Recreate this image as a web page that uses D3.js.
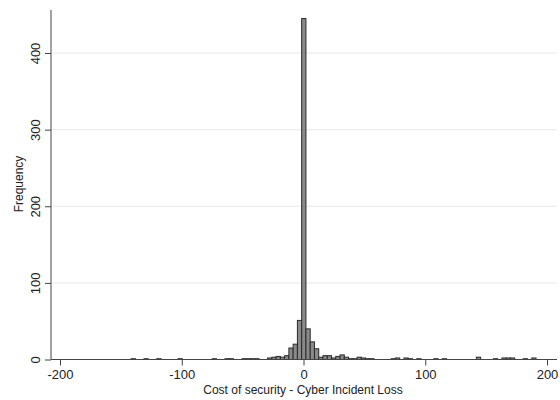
<!DOCTYPE html>
<html lang="en">
<head>
    <meta charset="UTF-8">
    <title>Cost of security histogram</title>
    <script src="https://d3js.org/d3.v7.min.js"></script>
    <style>
        body { margin: 0; background: #fff; }
        text { font-family: "Liberation Sans", Arial, sans-serif; fill: #222; }
    </style>
</head>
<body>
    <div id="chart"></div>

    <script>
        // Histogram bins (left edge, width 3.5)
        const binWidth = 3.5;
        const binStart = [
            -141.5, -131, -120.5, -103, -75, -64.5, -61, -50.5, -47, -43.5, -40,
            -29.5, -26, -22.5, -19, -15.5, -12, -8.5, -5, -1.5, 2, 5.5, 9, 12.5,
            16, 19.5, 23, 26.5, 30, 33.5, 37, 40.5, 44, 47.5, 51, 54.5,
            72, 75.5, 82.5, 86, 93, 107, 114, 142, 156, 163, 166.5, 170, 180.5, 187.5
        ];
        const binCount = [
            1, 1, 1, 1, 1, 1, 1, 1, 1, 1, 1,
            2, 3, 4, 3, 5, 15, 20, 51, 445, 40, 23, 14, 3,
            5, 5, 2, 4, 6, 3, 1, 1, 3, 2, 1, 1,
            1, 2, 2, 1, 1, 1, 1, 3, 1, 2, 2, 2, 1, 2
        ];
        const xTicks = [-200, -100, 0, 100, 200];
        const yTicks = [0, 100, 200, 300, 400];

        const width = 560;
        const height = 400;

        const svg = d3.select("#chart")
            .append("svg")
            .attr("width", width)
            .attr("height", height);

        const x = d3.scaleLinear()
            .domain([-200, 200])
            .range([60, 547]);

        const y = d3.scaleLinear()
            .domain([0, 400])
            .range([359.5, 53]);

        const plotLeft = 51, plotRight = 557, plotTop = 10, plotBottom = 359.5;

        // grid lines
        svg.append("g")
            .selectAll("line")
            .data(yTicks.filter(d => d > 0))
            .enter().append("line")
            .attr("x1", plotLeft).attr("x2", plotRight)
            .attr("y1", d => y(d)).attr("y2", d => y(d))
            .attr("stroke", "#e8e8e8")
            .attr("stroke-width", 1);

        // bars
        const bins = binStart.map((s, i) => ({ x0: s, x1: s + binWidth, n: binCount[i] }));
        svg.append("g")
            .selectAll("rect")
            .data(bins)
            .enter().append("rect")
            .attr("x", d => x(d.x0))
            .attr("width", d => x(d.x1) - x(d.x0))
            .attr("y", d => y(d.n))
            .attr("height", d => y(0) - y(d.n))
            .attr("fill", "#8a8a8a")
            .attr("stroke", "#2a2a2a")
            .attr("stroke-width", 1);

        // x axis (plain hyphen minus, as in the reference)
        const xAxis = svg.append("g")
            .attr("transform", `translate(0,${plotBottom})`)
            .call(d3.axisBottom(x).tickValues(xTicks).tickSize(6).tickPadding(4).tickFormat(d => String(d)));
        xAxis.select(".domain").attr("d", `M${plotLeft},0H${plotRight}`).attr("stroke", "#444");
        xAxis.selectAll("line").attr("stroke", "#444");
        xAxis.selectAll("text").style("font-size", "13px").attr("fill", "#222");

        // y axis, labels rotated
        const yAxis = svg.append("g")
            .attr("transform", `translate(${plotLeft},0)`)
            .call(d3.axisLeft(y).tickValues(yTicks).tickSize(6).tickPadding(0).tickFormat(d => String(d)));
        yAxis.select(".domain").attr("d", `M0,${plotTop}V${plotBottom}`).attr("stroke", "#444");
        yAxis.selectAll("line").attr("stroke", "#444");
        yAxis.selectAll("text")
            .style("font-size", "13px")
            .attr("fill", "#222")
            .attr("x", 0).attr("y", 0).attr("dy", 0)
            .attr("text-anchor", "middle")
            .attr("transform", "translate(-11,0) rotate(-90)");

        // axis titles
        svg.append("text")
            .attr("x", 303)
            .attr("y", 394)
            .attr("text-anchor", "middle")
            .style("font-size", "12px")
            .text("Cost of security - Cyber Incident Loss");

        svg.append("text")
            .attr("transform", "translate(23,184) rotate(-90)")
            .attr("text-anchor", "middle")
            .style("font-size", "12px")
            .text("Frequency");
    </script>
</body>
</html>
